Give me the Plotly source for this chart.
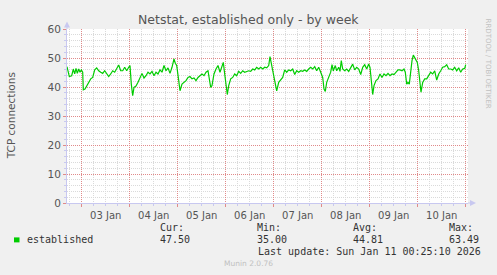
import pandas as pd
import plotly.graph_objects as go

# ---- data ----
# hours relative to 2026-01-03 00:00
hours = [
    -7.35, -6.2, -5.0, -4.2, -3.5, -2.85, -2.2, -1.5, -0.85, -0.2, 0.5, 0.8, 1.65, 3.3, 4.5, 5.5,
    6.5, 7.5, 8.5, 9.5, 10.5, 11.5, 12.5, 13.5, 14.5, 15.5, 16.5, 17.5, 18.5, 19.5, 20.5, 21.5,
    22.5, 23.5, 24.15, 24.8, 25.5, 26.15, 27.15, 28.15, 29.15, 30.15, 31.15, 32.15, 33.15, 34.15,
    35.15, 36.15, 37.15, 38.15, 39.15, 40.15, 41.15, 42.15, 43.15, 44.15, 45.15, 46.15, 46.8,
    47.5, 48.3, 49.15, 50.15, 51.15, 52.15, 53.15, 54.15, 55.15, 56.15, 57.15, 58.15, 59.15,
    60.15, 61.15, 62.15, 63.15, 63.8, 64.5, 65.15, 66.15, 67.15, 68.15, 69.15, 70.15, 70.8,
    71.5, 72.15, 72.8, 73.5, 74.5, 75.5, 76.5, 77.5, 78.5, 79.5, 80.5, 81.5, 82.5, 83.5, 84.5,
    85.5, 86.5, 87.5, 88.5, 89.5, 90.5, 91.5, 92.5, 93.5,
    94.15, 95.5, 96.5, 97.5, 98.5, 99.5, 100.5, 101.5, 102.5, 103.5, 104.5, 105.5, 106.5,
    107.5, 108.5, 109.5, 110.5, 111.5, 112.5, 113.5, 114.5, 115.5, 116.5, 117.5, 118.5, 119.5,
    120.5, 121.15, 121.8, 122.5, 123.5, 124.5, 125.15, 125.8, 126.8, 127.5, 128.5, 129.15,
    129.8, 130.5, 131.5, 132.5, 133.5, 134.5, 135.5, 136.5, 137.5, 138.5, 139.5, 140.5, 141.5,
    142.5, 143.5, 144.15, 144.8, 145.5, 146.15, 147.15, 148.15, 149.15, 150.15, 151.15, 152.15,
    153.15, 154.15, 155.15, 156.15, 157.15, 158.15, 159.15, 160.15, 161.15, 161.8, 162.5,
    163.15, 163.8, 164.5, 165.15, 165.8, 166.8, 167.8, 168.5, 169.15, 169.65, 170.5, 171.5,
    172.5, 173.5, 174.5, 175.5, 176.5, 177.5, 178.5, 179.5, 180.5, 181.5, 182.5, 183.5, 184.5,
    185.5, 186.5, 187.5, 188.5, 189.5, 190.5, 191.5, 192.0,
]
established = [
    47.0, 43.6, 43.9, 46.2, 44.5, 46.4, 44.7, 46.2, 45.1, 45.9, 45.1, 39.0, 39.3, 41.6, 42.8, 43.3,
    45.9, 46.6, 45.6, 45.1, 44.7, 45.6, 44.5, 43.6, 44.5, 45.6, 45.1, 46.2, 47.6, 45.6, 45.6, 46.8,
    45.6, 46.8, 47.4, 41.0, 37.0, 39.9, 40.3, 41.6, 43.3, 44.7, 43.1, 43.9, 45.1, 44.5,
    45.4, 43.9, 45.1, 44.5, 45.9, 45.1, 47.4, 45.6, 46.6, 44.7, 46.8, 49.7, 48.2,
    47.4, 43.3, 38.7, 41.0, 41.6, 42.2, 43.3, 43.6, 42.8, 43.1, 42.2, 43.3, 43.9,
    44.5, 43.9, 45.1, 45.6, 42.8, 39.9, 40.5, 44.5, 46.2, 47.4, 45.1, 47.4, 48.5,
    44.5, 39.9, 37.4, 40.5, 42.8, 43.3, 44.5, 43.9, 45.4, 44.7, 45.6, 45.1, 45.4, 45.6, 45.4,
    46.2, 45.9, 46.8, 46.2, 46.8, 46.2, 46.8, 46.6, 47.4,
    50.5, 46.2, 42.2, 38.7, 41.6, 42.4, 43.3, 45.9, 45.1, 45.9, 45.6, 46.2, 44.3,
    45.6, 45.1, 45.6, 45.4, 45.9, 45.4, 46.2, 46.8, 46.2, 47.0, 45.6, 46.8, 45.1,
    43.3, 39.3, 38.5, 41.6, 43.3, 45.1, 47.7, 45.6, 47.4, 45.6, 46.8, 45.4,
    49.1, 46.2, 45.6, 46.2, 45.4, 46.8, 47.9, 45.9, 46.8, 46.2, 44.3, 46.8, 47.7,
    46.2, 47.9, 46.8, 42.2, 37.4, 40.5, 42.2, 42.8, 44.5, 43.3, 44.5, 43.9,
    44.7, 43.9, 44.5, 44.3, 45.1, 45.9, 45.9, 45.6, 46.2, 45.1, 41.0,
    41.6, 41.0, 45.6, 49.1, 51.0, 49.7, 48.5, 45.6, 42.2, 38.2, 41.6, 42.8,
    42.8, 43.9, 45.1, 44.5, 45.6, 42.4, 44.5, 45.6, 46.8, 47.0, 47.7, 46.2, 46.2,
    45.9, 46.8, 45.6, 46.6, 45.1, 46.2, 46.4, 47.7,
]
series_name = "established"
stat_labels = ["Cur:", "Min:", "Avg:", "Max:"]
stat_values = ["47.50", "35.00", "44.81", "63.49"]
y_ticks = [0, 10, 20, 30, 40, 50, 60]
title = "Netstat, established only - by week"
y_title = "TCP connections"
last_update = "Last update: Sun Jan 11 00:25:10 2026"
footer = "Munin 2.0.76"
side_text = "RRDTOOL / TOBI OETIKER"

base = pd.Timestamp("2026-01-03 00:00")
times = [base + pd.Timedelta(hours=h) for h in hours]

# ---- layout geometry (pixels) ----
W, H = 497, 275
L, R, T, B = 67, 468, 28.5, 203


def px(x):
    return (x - L) / (R - L)


def py(y):
    return (B - y) / (B - T)


AXIS = "#C8C8F0"
TXT = "#555555"
MONO = "DejaVu Sans Mono"
SANS = "DejaVu Sans"
MAJ = "#E08A8A"
MIN = "#DADADA"
DOT = "1px,1px"

fig = go.Figure()
fig.add_trace(go.Scatter(x=times, y=established, mode="lines",
                         line=dict(color="#00CC00", width=1.2), name=series_name,
                         showlegend=False, hoverinfo="skip"))

fig.update_layout(
    width=W, height=H,
    margin=dict(l=L, r=W - R, t=T, b=H - B, pad=0),
    paper_bgcolor="#F0F0F0", plot_bgcolor="#FFFFFF",
    showlegend=False,
    font=dict(family=SANS, size=10, color=TXT),
)
fig.update_xaxes(
    type="date",
    range=[base + pd.Timedelta(hours=-7.35), base + pd.Timedelta(hours=193.15)],
    tick0=base, dtick=86400000, tickformat="%d %b", ticklabelmode="period",
    showgrid=True, gridcolor=MAJ, griddash=DOT, gridwidth=1,
    ticks="outside", ticklen=3, tickcolor=MAJ,
    minor=dict(dtick=6 * 3600000, showgrid=True, gridcolor=MIN, griddash=DOT,
               ticks="outside", ticklen=2, tickcolor=AXIS),
    showline=True, linecolor=AXIS, linewidth=1, zeroline=False,
    tickfont=dict(family=SANS, size=10, color=TXT), fixedrange=True,
)
fig.update_yaxes(
    range=[0, 60], tickvals=y_ticks,
    showgrid=True, gridcolor=MAJ, griddash=DOT, gridwidth=1,
    ticks="outside", ticklen=3, tickcolor=MAJ,
    minor=dict(dtick=2, showgrid=True, gridcolor=MIN, griddash=DOT,
               ticks="outside", ticklen=2, tickcolor=AXIS),
    showline=True, linecolor=AXIS, linewidth=1, zeroline=False,
    tickfont=dict(family=SANS, size=10.5, color=TXT), fixedrange=True,
)

ann = []
ann.append(dict(text=title, x=px(248), y=py(19), xref="paper", yref="paper",
                xanchor="center", yanchor="middle", showarrow=False,
                font=dict(family=SANS, size=12.5, color=TXT)))
ann.append(dict(text=y_title, x=px(11), y=py(116), xref="paper", yref="paper",
                xanchor="center", yanchor="middle", showarrow=False, textangle=-90,
                font=dict(family=SANS, size=10.5, color=TXT)))
ann.append(dict(text=side_text, x=px(488), y=py(16), xref="paper", yref="paper",
                xanchor="center", yanchor="top", showarrow=False, textangle=90,
                font=dict(family=SANS, size=7, color="#C0C0C0")))
ann.append(dict(text=series_name, x=px(25), y=py(240), xref="paper", yref="paper",
                xanchor="left", yanchor="middle", showarrow=False,
                font=dict(family=MONO, size=10, color="#333333")))
stat_x = [158, 254.5, 350.5, 446.5]
for lab, val, sx in zip(stat_labels, stat_values, stat_x):
    ann.append(dict(text=lab, x=px(sx), y=py(228), xref="paper", yref="paper",
                    xanchor="left", yanchor="middle", showarrow=False,
                    font=dict(family=MONO, size=10, color="#333333")))
    ann.append(dict(text=val, x=px(sx), y=py(240), xref="paper", yref="paper",
                    xanchor="left", yanchor="middle", showarrow=False,
                    font=dict(family=MONO, size=10, color="#333333")))
ann.append(dict(text=last_update, x=px(483), y=py(252), xref="paper", yref="paper",
                xanchor="right", yanchor="middle", showarrow=False,
                font=dict(family=MONO, size=10, color="#333333")))
ann.append(dict(text=footer, x=px(248), y=py(264), xref="paper", yref="paper",
                xanchor="center", yanchor="middle", showarrow=False,
                font=dict(family=SANS, size=7.5, color="#C0C0C0")))
fig.update_layout(annotations=ann)

shapes = []
# legend colour square
shapes.append(dict(type="rect", xref="paper", yref="paper",
                   x0=px(14), x1=px(19.5), y0=py(242.5), y1=py(237.5),
                   fillcolor="#00CC00", line=dict(width=0)))
# y axis extension and arrow
shapes.append(dict(type="line", xref="paper", yref="paper",
                   x0=px(L), x1=px(L), y0=py(T), y1=py(24), line=dict(color=AXIS, width=1)))
shapes.append(dict(type="path", xref="paper", yref="paper",
                   path=f"M {px(64)} {py(27)} L {px(70)} {py(27)} L {px(67)} {py(21)} Z",
                   fillcolor=AXIS, line=dict(width=0)))
# x axis extension and arrow
shapes.append(dict(type="line", xref="paper", yref="paper",
                   x0=px(R), x1=px(471), y0=py(B), y1=py(B), line=dict(color=AXIS, width=1)))
shapes.append(dict(type="path", xref="paper", yref="paper",
                   path=f"M {px(470)} {py(200)} L {px(470)} {py(206)} L {px(476)} {py(B)} Z",
                   fillcolor=AXIS, line=dict(width=0)))
fig.update_layout(shapes=shapes)

fig.write_html("out.html")
